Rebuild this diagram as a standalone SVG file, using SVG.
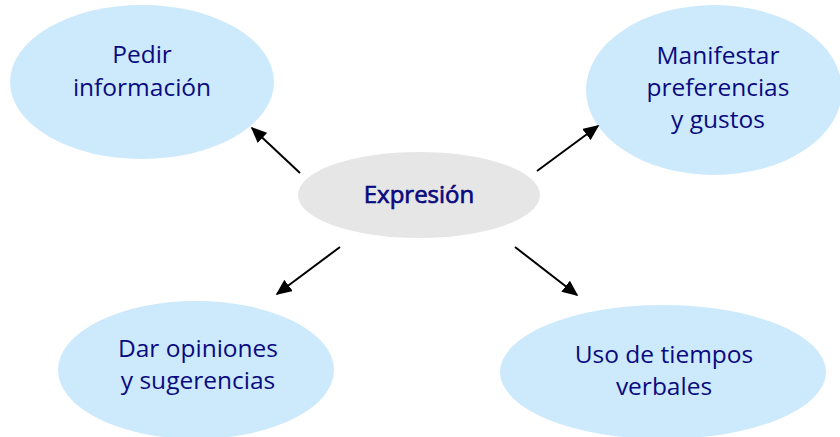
<svg xmlns="http://www.w3.org/2000/svg" width="840" height="437" viewBox="0 0 840 437">
<defs>
<style>
.n{fill:#cdeafd;stroke:none}
.c{fill:#e6e6e6;stroke:none}
text{font-family:"Open Sans","Noto Sans","Liberation Sans",sans-serif;font-size:24.5px;fill:#0a0a80;text-anchor:middle}
.con line{stroke:#000;stroke-width:2;marker-end:url(#ah)}
</style>
<marker id="ah" viewBox="0 0 10 10" refX="9" refY="5" markerWidth="8" markerHeight="7" orient="auto" markerUnits="strokeWidth" preserveAspectRatio="none">
<path d="M0,0 L10,5 L0,10 z" fill="#000"/>
</marker>
</defs>
<rect width="840" height="437" fill="#fff"/>
<g id="pedir"><ellipse class="n" cx="142" cy="82" rx="132" ry="77"/><text x="142" y="63">Pedir</text><text x="142" y="96">información</text></g>
<g id="manifestar"><ellipse class="n" cx="714" cy="90" rx="128" ry="85"/><text x="718" y="64">Manifestar</text><text x="718" y="96">preferencias</text><text x="718" y="128">y gustos</text></g>
<g id="expresion"><ellipse class="c" cx="419" cy="195" rx="121" ry="43"/><text x="419" y="203" style="font-size:24px;stroke:#0a0a80;stroke-width:0.7">Expresión</text></g>
<g id="dar"><ellipse class="n" cx="196" cy="370" rx="138" ry="69"/><text x="198" y="357">Dar opiniones</text><text x="198" y="389">y sugerencias</text></g>
<g id="uso"><ellipse class="n" cx="663" cy="372" rx="163" ry="67"/><text x="664" y="363">Uso de tiempos</text><text x="664" y="395">verbales</text></g>
<g class="con">
<line x1="300" y1="173" x2="252" y2="128"/>
<line x1="537" y1="171" x2="598" y2="126"/>
<line x1="340" y1="247" x2="277" y2="294"/>
<line x1="515" y1="247" x2="577" y2="295"/>
</g>
</svg>
